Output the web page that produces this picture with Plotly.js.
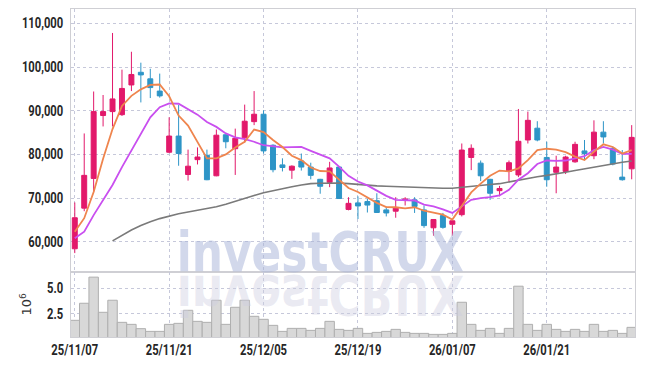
<!DOCTYPE html>
<html>
<head>
<meta charset="utf-8">
<script src="https://cdn.plot.ly/plotly-3.0.1.min.js"></script>
<style>
html,body{margin:0;padding:0;background:#fff;}
#chart{width:645px;height:366px;}
.wm-flip text{transform-box:fill-box;transform-origin:center;transform:scaleY(-1);}
</style>
</head>
<body>
<div id="chart"></div>
<script>
const dates = ['25/11/07','25/11/10','25/11/11','25/11/12','25/11/13','25/11/14','25/11/17','25/11/18','25/11/19','25/11/20',
  '25/11/21','25/11/24','25/11/25','25/11/26','25/11/27','25/11/28','25/12/01','25/12/02','25/12/03','25/12/04',
  '25/12/05','25/12/08','25/12/09','25/12/10','25/12/11','25/12/12','25/12/15','25/12/16','25/12/17','25/12/18',
  '25/12/19','25/12/22','25/12/23','25/12/24','25/12/26','25/12/29','25/12/30','26/01/02','26/01/05','26/01/06',
  '26/01/07','26/01/08','26/01/09','26/01/12','26/01/13','26/01/14','26/01/15','26/01/16','26/01/19','26/01/20',
  '26/01/21','26/01/22','26/01/23','26/01/26','26/01/27','26/01/28','26/01/29','26/01/30','26/02/02','26/02/03'];

const openP = [58400,67700,74500,88900,89800,89100,95900,98800,97300,94500,
  80500,84200,75400,78800,79800,75100,84500,81300,83800,87500,
  89200,82100,77600,76400,78500,77100,74300,73600,77100,67400,
  68900,69200,69400,67300,67000,69450,69600,67300,63200,66000,
  64000,66200,79300,78000,74300,71700,76100,75300,83300,86000,
  79300,75900,76100,78300,80800,79700,85100,81400,74800,76700];
const highP = [69000,84800,94400,93600,107800,99400,103500,101000,99600,98500,
  88500,91300,81100,81600,81100,85700,84600,85900,91400,94500,
  90100,82300,79100,77500,80200,78100,74400,78300,77200,70200,
  70400,69800,71100,68000,70200,70200,70200,68300,65200,66600,
  65000,82500,82300,78600,74400,72800,78600,90400,89800,87600,
  82900,79700,79700,82900,83300,87800,87600,81700,81000,86700];
const lowP = [57400,67000,71400,86400,86400,88800,94500,91900,92900,93000,
  80300,77400,74000,77700,74100,75000,81400,75300,82700,86700,
  80200,75900,76100,74400,76300,74300,71000,72500,69800,67200,
  65200,66700,66600,65800,65500,68300,66600,63200,61400,63000,
  61400,65800,76400,73900,69600,70400,73600,74800,82500,83000,
  72600,71100,75500,78100,78700,78900,82500,77500,74000,74300];
const closeP = [65500,75200,89800,89800,92700,95100,98300,98200,95300,93400,
  84200,80200,77300,79400,74200,84400,82900,83700,87600,89200,
  80800,76500,77000,77300,77100,75200,72700,76900,69900,68800,
  68200,68400,66700,66600,67700,69800,68100,63700,65100,63300,
  64800,81000,81400,75100,71100,72200,78100,83000,87800,83300,
  74200,77100,79400,82300,80200,85100,84000,77800,74200,83900];

const ma5 = [62300,65400,71400,79000,85800,91100,93400,94900,95900,96000,
  93300,88900,86600,82900,79100,79100,80000,81600,82900,85700,
  85100,83300,81700,79700,78700,77000,76200,76100,74300,72300,
  71400,70200,68900,67950,67900,67650,67900,67100,66600,66200,
  65100,68300,71300,73300,75100,76300,76100,76800,78700,81000,
  81300,81100,80500,79500,78700,80600,82300,81700,80200,81000];
const ma10 = [60800,62300,66100,69600,73000,77100,80900,84700,88500,90800,
  91700,91600,90400,89100,87400,86300,84800,83900,83500,82900,
  82100,81800,81600,81650,81700,80800,79900,79100,77200,75100,
  73800,72900,71700,70500,69600,69550,69450,68500,68100,67400,
  66600,68100,69600,70000,70200,70600,71900,74200,75700,77800,
  78600,78500,78600,79100,79600,81000,81700,81100,80100,80100];
const ma20 = [null,null,null,null,60200,61500,62700,63700,64600,65300,
  65900,66400,66800,67200,67600,68000,68600,69300,70000,70600,
  71200,71700,72200,72600,73000,73300,73400,73500,73450,73300,
  73100,72900,72800,72700,72600,72500,72400,72350,72300,72250,
  72250,72500,72700,72900,73100,73300,73700,74200,74600,74900,
  75200,75500,75900,76300,76700,77100,77500,77900,78200,78500];

const volume = [1.83,3.53,6.13,2.63,3.83,1.63,1.43,1.0,0.73,0.73,
  1.43,1.53,2.83,1.73,1.63,3.83,1.43,3.13,3.83,2.23,
  1.93,1.33,0.73,1.03,1.03,0.83,1.03,1.73,0.93,0.83,
  1.03,0.53,0.63,0.73,0.93,0.63,0.53,0.53,0.43,0.43,
  0.53,3.63,1.43,0.83,1.03,0.53,1.03,5.23,1.43,0.83,
  1.43,0.93,0.73,0.93,0.73,1.43,0.73,0.83,0.53,1.13];

const tickDates = ['25/11/07','25/11/21','25/12/05','25/12/19','26/01/07','26/01/21'];
const priceTicks = [60000,70000,80000,90000,100000,110000];
const volTicks = [2.5,5.0];

const UP = '#E2196B', DOWN = '#2E95C7';
const GRID = '#C6C8DA';
const FRAME = '#CFCFD4';
const tickFont = {family:'Roboto, DejaVu Sans, sans-serif', size:14, color:'#262626', weight:700};

const traces = [
  {type:'candlestick', x:dates, open:openP, high:highP, low:lowP, close:closeP,
   xaxis:'x', yaxis:'y',
   increasing:{line:{color:UP,width:1}, fillcolor:UP},
   decreasing:{line:{color:DOWN,width:1}, fillcolor:DOWN},
   whiskerwidth:0, hoverinfo:'skip'},
  {type:'scatter', mode:'lines', x:dates, y:ma20, xaxis:'x', yaxis:'y',
   line:{color:'#7a7a7a', width:1.6}, connectgaps:false, hoverinfo:'skip'},
  {type:'scatter', mode:'lines', x:dates, y:ma10, xaxis:'x', yaxis:'y',
   line:{color:'#C94FEF', width:1.8}, hoverinfo:'skip'},
  {type:'scatter', mode:'lines', x:dates, y:ma5, xaxis:'x', yaxis:'y',
   line:{color:'#EF854E', width:1.8}, hoverinfo:'skip'},
  {type:'bar', x:dates, y:volume, xaxis:'x2', yaxis:'y2',
   marker:{color:'#D8D8D8', line:{color:'#AFAFAF', width:1}}, hoverinfo:'skip'}
];

const layout = {
  width:645, height:366,
  margin:{l:71, r:10, t:9, b:29},
  paper_bgcolor:'#fff', plot_bgcolor:'#fff',
  showlegend:false,
  bargap:0,
  boxgap:0.25,
  xaxis:{type:'category', anchor:'y', domain:[0,1], range:[-0.4,59.35],
    rangeslider:{visible:false}, showticklabels:false,
    tickvals:tickDates, showgrid:true, gridcolor:GRID, griddash:'dot', gridwidth:1,
    showline:true, linecolor:FRAME, mirror:true, ticks:'', zeroline:false},
  yaxis:{domain:[0.199,1], anchor:'x', range:[53140,113290],
    tickvals:priceTicks, tickformat:',d', tickfont:tickFont, ticklabelstandoff:4,
    showgrid:true, gridcolor:GRID, griddash:'dot', gridwidth:1,
    showline:true, linecolor:FRAME, mirror:true, ticks:'', zeroline:false},
  xaxis2:{type:'category', anchor:'y2', matches:'x', domain:[0,1], range:[-0.4,59.35],
    tickvals:tickDates, ticktext:tickDates, tickfont:tickFont, tickangle:0,
    showgrid:true, gridcolor:GRID, griddash:'dot', gridwidth:1,
    showline:true, linecolor:FRAME, mirror:true, ticks:'', zeroline:false},
  yaxis2:{domain:[0,0.199], anchor:'x2', range:[0.17,6.67],
    tickvals:volTicks, tickformat:'.1f', tickfont:tickFont, ticklabelstandoff:4,
    title:{text:'10<sup>6</sup>', font:{family:'DejaVu Sans', size:13, color:'#333'}, standoff:8},
    showgrid:true, gridcolor:GRID, griddash:'dot', gridwidth:1,
    showline:true, linecolor:FRAME, mirror:true, ticks:'', zeroline:false},
  annotations:[
    {text:'investCRUX', xref:'paper', yref:'paper', x:0.443, y:0.262, xanchor:'center', yanchor:'middle',
     showarrow:false, font:{family:'DejaVu Sans', size:56, weight:700, color:'rgba(168,180,216,0.52)'}},
    {text:'investCRUX', xref:'paper', yref:'paper', x:0.443, y:0.128, xanchor:'center', yanchor:'middle',
     showarrow:false, font:{family:'DejaVu Sans', size:56, weight:700, color:'rgba(205,205,225,0.42)'}}
  ]
};

function squeeze(sel, ratio) {
  document.querySelectorAll(sel).forEach(function(t){
    const w = t.getComputedTextLength();
    if (w > 0) {
      t.setAttribute('textLength', (w * ratio).toFixed(1));
      t.setAttribute('lengthAdjust', 'spacingAndGlyphs');
    }
  });
}

Plotly.newPlot('chart', traces, layout, {staticPlot:true}).then(function(gd){
  const anns = gd.querySelectorAll('.annotation');
  if (anns.length > 1) anns[1].classList.add('wm-flip');
  squeeze('.ytick text, .xtick text, .y2tick text, .x2tick text', 0.8);
  gd.querySelectorAll('.annotation-text').forEach(function(t){
    t.setAttribute('textLength', '287');
    t.setAttribute('lengthAdjust', 'spacingAndGlyphs');
  });
});
</script>
</body>
</html>
